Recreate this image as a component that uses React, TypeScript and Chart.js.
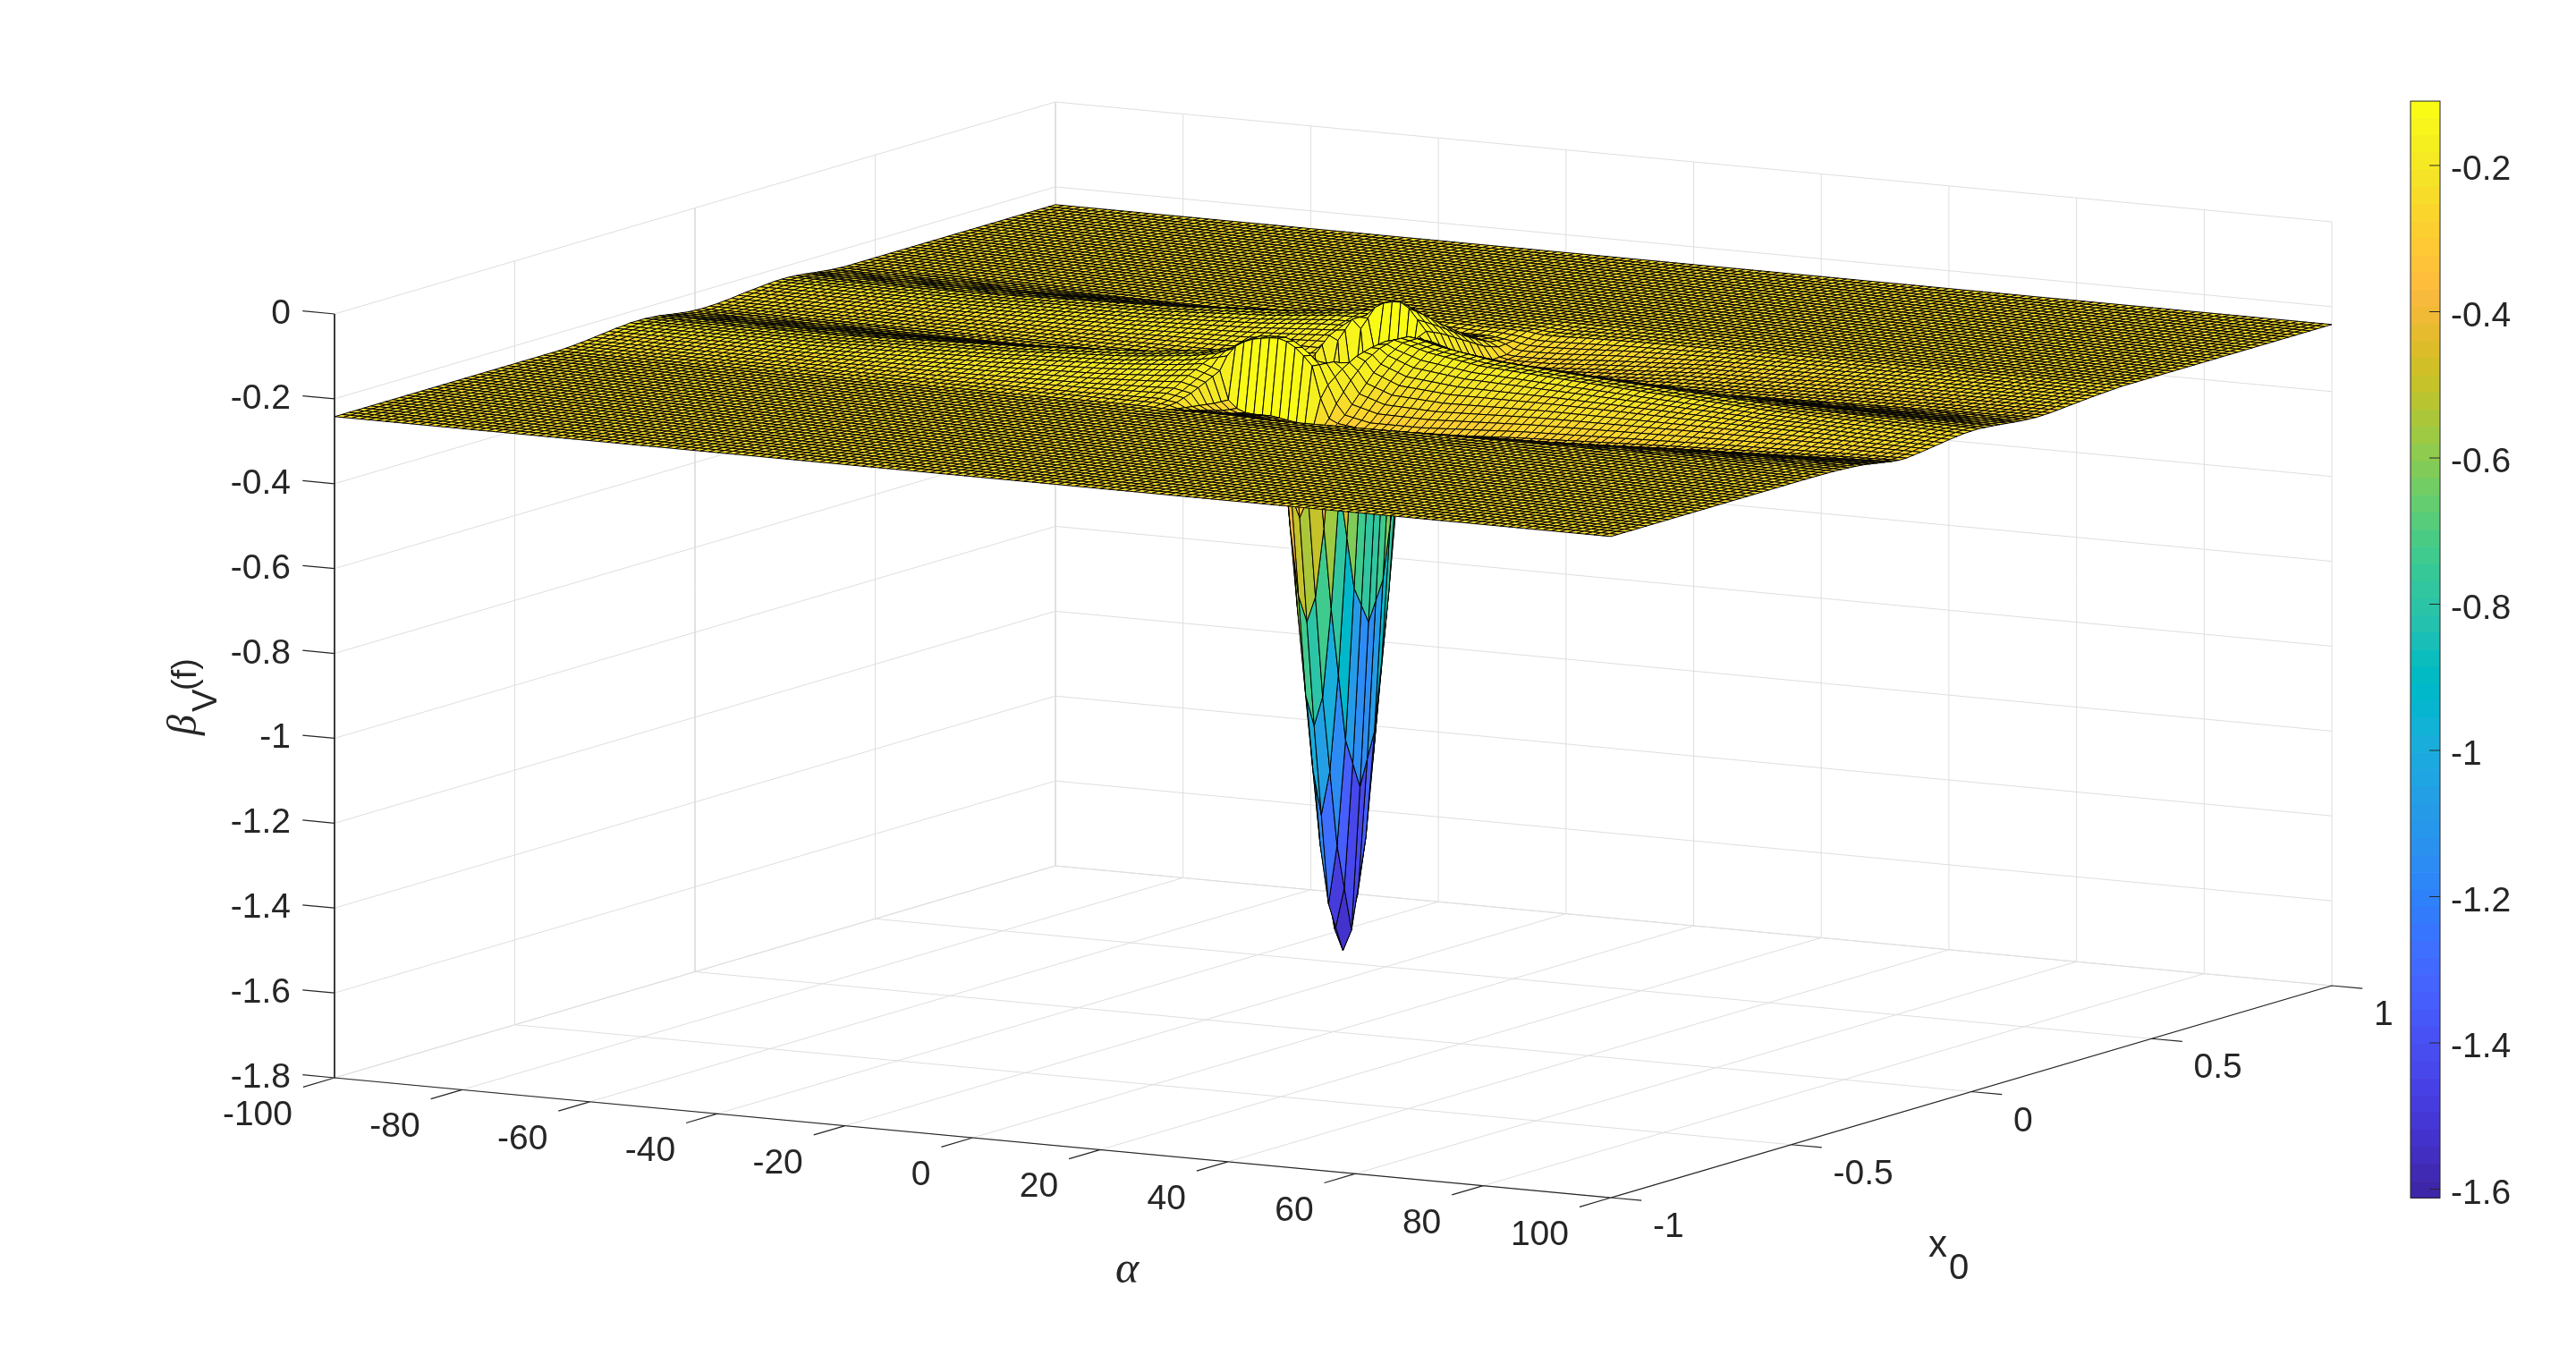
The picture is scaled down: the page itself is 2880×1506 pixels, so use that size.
import React, { useEffect, useRef } from "react";
import { Chart, registerables } from "chart.js";

Chart.register(...registerables);

// ---------- data ----------
const alphaTicks = [-100, -80, -60, -40, -20, 0, 20, 40, 60, 80, 100];
const x0Ticks = [-1, -0.5, 0, 0.5, 1];
const x0TickText = ["-1", "-0.5", "0", "0.5", "1"];
const zTicks = [0, -0.2, -0.4, -0.6, -0.8, -1, -1.2, -1.4, -1.6, -1.8];
const colorbarTicks = [-0.2, -0.4, -0.6, -0.8, -1, -1.2, -1.4, -1.6];
const colorLimits = [-1.612, -0.112];
const flatLevel = -0.242;

// Surface heights at these stations. The picture's mesh
// is denser than the table: mesh points between stations are looked up linearly.
const alphaStations = [-100, -70, -40, -22, -12, -8, -5.3333, -4, -2.6667, -1.3333, 0, 1.3333, 2.6667, 4, 5.3333, 6.6667, 8, 9.3333, 10.6667, 12, 16, 24, 40, 70, 100];
const x0Stations = [-0.38, -0.34, -0.3, -0.26, -0.22, -0.2, -0.18, -0.14, -0.1, -0.06, -0.02, 0.02, 0.06, 0.1, 0.14, 0.18, 0.22, 0.26, 0.3, 0.34, 0.38, 0.42];
const zRows = [
  [-0.242, -0.24, -0.237, -0.233, -0.229, -0.228, -0.226, -0.226, -0.229, -0.235, -0.24, -0.242, -0.241, -0.238, -0.234, -0.231, -0.228, -0.228, -0.231, -0.236, -0.24, -0.242],
  [-0.242, -0.24, -0.236, -0.231, -0.226, -0.224, -0.223, -0.222, -0.226, -0.233, -0.239, -0.242, -0.24, -0.237, -0.232, -0.228, -0.225, -0.224, -0.228, -0.234, -0.239, -0.242],
  [-0.242, -0.2385, -0.2315, -0.223, -0.214, -0.211, -0.208, -0.207, -0.216, -0.233, -0.243, -0.243, -0.239, -0.233, -0.225, -0.218, -0.213, -0.212, -0.22, -0.235, -0.243, -0.242],
  [-0.242, -0.237, -0.227, -0.215, -0.202, -0.198, -0.194, -0.192, -0.205, -0.23, -0.244, -0.244, -0.238, -0.228, -0.217, -0.206, -0.198, -0.197, -0.208, -0.232, -0.244, -0.242],
  [-0.242, -0.235, -0.222, -0.206, -0.19, -0.184, -0.179, -0.177, -0.193, -0.226, -0.245, -0.245, -0.236, -0.224, -0.209, -0.194, -0.184, -0.182, -0.197, -0.228, -0.245, -0.242],
  [-0.242, -0.234, -0.22, -0.2, -0.182, -0.175, -0.168, -0.165, -0.19, -0.226, -0.248, -0.25, -0.24, -0.224, -0.205, -0.192, -0.182, -0.176, -0.19, -0.226, -0.246, -0.242],
  [-0.244, -0.24, -0.228, -0.212, -0.195, -0.165, -0.152, -0.158, -0.19, -0.235, -0.26, -0.26, -0.24, -0.215, -0.19, -0.186, -0.178, -0.175, -0.19, -0.225, -0.246, -0.242],
  [-0.245, -0.25, -0.255, -0.26, -0.262, -0.14, -0.135, -0.15, -0.18, -0.215, -0.24, -0.215, -0.18, -0.165, -0.165, -0.18, -0.185, -0.192, -0.208, -0.232, -0.248, -0.243],
  [-0.245, -0.255, -0.265, -0.275, -0.28, -0.128, -0.125, -0.145, -0.19, -0.36, -0.42, -0.36, -0.19, -0.15, -0.15, -0.165, -0.178, -0.19, -0.21, -0.234, -0.248, -0.243],
  [-0.245, -0.255, -0.268, -0.28, -0.288, -0.12, -0.118, -0.17, -0.48, -0.73, -0.82, -0.73, -0.48, -0.17, -0.13, -0.15, -0.172, -0.195, -0.215, -0.238, -0.25, -0.244],
  [-0.245, -0.255, -0.268, -0.28, -0.29, -0.116, -0.116, -0.38, -0.77, -1.09, -1.21, -1.09, -0.77, -0.38, -0.118, -0.14, -0.172, -0.198, -0.22, -0.242, -0.25, -0.244],
  [-0.245, -0.255, -0.268, -0.28, -0.29, -0.113, -0.115, -0.5, -0.98, -1.34, -1.55, -1.34, -0.98, -0.5, -0.113, -0.137, -0.172, -0.2, -0.224, -0.245, -0.25, -0.244],
  [-0.245, -0.255, -0.268, -0.28, -0.29, -0.112, -0.115, -0.55, -1.05, -1.48, -1.6, -1.48, -1.05, -0.55, -0.112, -0.14, -0.172, -0.2, -0.225, -0.245, -0.25, -0.244],
  [-0.245, -0.256, -0.27, -0.283, -0.293, -0.118, -0.122, -0.5, -0.98, -1.34, -1.55, -1.34, -0.98, -0.5, -0.125, -0.15, -0.178, -0.204, -0.228, -0.248, -0.252, -0.244],
  [-0.245, -0.258, -0.273, -0.287, -0.297, -0.13, -0.135, -0.38, -0.77, -1.09, -1.21, -1.09, -0.77, -0.38, -0.15, -0.17, -0.192, -0.215, -0.235, -0.252, -0.255, -0.245],
  [-0.246, -0.26, -0.276, -0.291, -0.3, -0.148, -0.152, -0.19, -0.48, -0.73, -0.82, -0.73, -0.48, -0.19, -0.175, -0.19, -0.21, -0.23, -0.25, -0.262, -0.258, -0.245],
  [-0.246, -0.262, -0.279, -0.295, -0.304, -0.17, -0.172, -0.175, -0.19, -0.36, -0.42, -0.36, -0.19, -0.18, -0.21, -0.232, -0.252, -0.27, -0.28, -0.278, -0.262, -0.248],
  [-0.247, -0.264, -0.282, -0.298, -0.306, -0.245, -0.218, -0.19, -0.17, -0.16, -0.155, -0.16, -0.17, -0.2, -0.23, -0.255, -0.272, -0.282, -0.285, -0.28, -0.265, -0.25],
  [-0.248, -0.266, -0.285, -0.3, -0.31, -0.29, -0.26, -0.215, -0.18, -0.16, -0.15, -0.152, -0.17, -0.205, -0.24, -0.265, -0.278, -0.286, -0.288, -0.28, -0.265, -0.25],
  [-0.248, -0.267, -0.287, -0.303, -0.313, -0.3, -0.285, -0.245, -0.205, -0.175, -0.155, -0.155, -0.172, -0.208, -0.245, -0.27, -0.282, -0.288, -0.288, -0.28, -0.265, -0.25],
  [-0.248, -0.266, -0.286, -0.304, -0.316, -0.308, -0.298, -0.265, -0.23, -0.198, -0.172, -0.17, -0.19, -0.225, -0.258, -0.28, -0.288, -0.29, -0.288, -0.278, -0.263, -0.248],
  [-0.247, -0.262, -0.282, -0.3, -0.314, -0.308, -0.298, -0.27, -0.24, -0.213, -0.192, -0.19, -0.205, -0.238, -0.268, -0.285, -0.286, -0.285, -0.28, -0.27, -0.257, -0.246],
  [-0.245, -0.255, -0.27, -0.285, -0.298, -0.294, -0.285, -0.262, -0.24, -0.222, -0.208, -0.208, -0.22, -0.245, -0.265, -0.276, -0.276, -0.272, -0.266, -0.258, -0.25, -0.244],
  [-0.243, -0.247, -0.254, -0.264, -0.277, -0.276, -0.272, -0.259, -0.248, -0.24, -0.234, -0.234, -0.24, -0.251, -0.26, -0.265, -0.263, -0.26, -0.255, -0.25, -0.245, -0.242],
  [-0.243, -0.245, -0.248, -0.254, -0.26, -0.262, -0.262, -0.258, -0.253, -0.248, -0.244, -0.243, -0.246, -0.25, -0.254, -0.256, -0.255, -0.252, -0.249, -0.246, -0.244, -0.242],
];

const parula = [
  [0.2422, 0.1504, 0.6603], [0.2504, 0.165, 0.7076], [0.2578, 0.1818, 0.7511], [0.2647, 0.1978, 0.7952],
  [0.2706, 0.2147, 0.8364], [0.2751, 0.2342, 0.871], [0.2783, 0.2559, 0.8991], [0.2803, 0.2782, 0.9221],
  [0.2813, 0.3006, 0.9414], [0.281, 0.3228, 0.9579], [0.2795, 0.3447, 0.9717], [0.276, 0.3667, 0.9829],
  [0.2699, 0.3892, 0.9906], [0.2602, 0.4123, 0.9952], [0.244, 0.4358, 0.9988], [0.2206, 0.4603, 0.9973],
  [0.1963, 0.4847, 0.9892], [0.1834, 0.5074, 0.9798], [0.1786, 0.5289, 0.9682], [0.1764, 0.5499, 0.952],
  [0.1687, 0.5703, 0.9359], [0.154, 0.5902, 0.9218], [0.146, 0.6091, 0.9079], [0.138, 0.6276, 0.8973],
  [0.1248, 0.6459, 0.8883], [0.1113, 0.6635, 0.8763], [0.0952, 0.6798, 0.8598], [0.0689, 0.6948, 0.8394],
  [0.0297, 0.7082, 0.8163], [0.0036, 0.7203, 0.7917], [0.0067, 0.7312, 0.766], [0.0433, 0.7411, 0.7394],
  [0.0964, 0.75, 0.712], [0.1408, 0.7584, 0.6842], [0.1717, 0.767, 0.6554], [0.1938, 0.7758, 0.6251],
  [0.2161, 0.7843, 0.5923], [0.247, 0.7918, 0.5567], [0.2906, 0.7973, 0.5188], [0.3406, 0.8008, 0.4789],
  [0.3909, 0.8029, 0.4354], [0.4456, 0.8024, 0.3909], [0.5044, 0.7993, 0.348], [0.5616, 0.7942, 0.3045],
  [0.6174, 0.7876, 0.2612], [0.672, 0.7793, 0.2227], [0.7242, 0.7698, 0.191], [0.7738, 0.7598, 0.1646],
  [0.8203, 0.7498, 0.1535], [0.8634, 0.7406, 0.1596], [0.9035, 0.733, 0.1774], [0.9393, 0.7288, 0.21],
  [0.9728, 0.7298, 0.2394], [0.9956, 0.7434, 0.2371], [0.997, 0.7659, 0.2199], [0.9952, 0.7893, 0.2028],
  [0.9892, 0.8136, 0.1885], [0.9786, 0.8386, 0.1766], [0.9676, 0.8639, 0.1643], [0.961, 0.889, 0.1537],
  [0.9597, 0.9135, 0.1423], [0.9628, 0.9373, 0.1265], [0.9691, 0.9606, 0.1064], [0.9769, 0.9839, 0.0805],
].map((c) => `rgb(${Math.round(c[0] * 255)},${Math.round(c[1] * 255)},${Math.round(c[2] * 255)})`);

// ---------- mesh and projection ----------
const alphaLineCount = 151;
const x0LineCount = 101;
const WIDTH = 2880;
const HEIGHT = 1506;
const TEXT = "rgb(38,38,38)";
const GRID = "rgb(222,222,222)";
const SANS = "'Liberation Sans'";
const SERIF = "'Liberation Serif'";

function project(alpha: number, x0: number, z: number) {
  const a = (alpha + 100) / 200;
  const b = (x0 + 1) / 2;
  const c = (z + 1.8) / 1.8;
  return { x: 374 + 1427 * a + 806 * b, y: 1205 + 134 * a - 237 * b - 854 * c };
}

function bracket(list: number[], v: number) {
  let i = 0;
  while (i < list.length - 2 && v > list[i + 1] + 1e-6) i++;
  return i;
}

function lookup(alpha: number, x0: number) {
  const xs = [-0.46, ...x0Stations, 0.5];
  if (x0 <= xs[0] || x0 >= xs[xs.length - 1]) return flatLevel;
  const ia = bracket(alphaStations, alpha);
  const ta = (alpha - alphaStations[ia]) / (alphaStations[ia + 1] - alphaStations[ia]);
  const ix = bracket(xs, x0);
  const tx = (x0 - xs[ix]) / (xs[ix + 1] - xs[ix]);
  const cell = (r: number, c: number) =>
    c === 0 || c === xs.length - 1 ? flatLevel : zRows[r][c - 1];
  const lo = cell(ia, ix) * (1 - tx) + cell(ia, ix + 1) * tx;
  const hi = cell(ia + 1, ix) * (1 - tx) + cell(ia + 1, ix + 1) * tx;
  return lo * (1 - ta) + hi * ta;
}

const alphaLines = Array.from({ length: alphaLineCount }, (_, i) => -100 + (200 * i) / (alphaLineCount - 1));
const x0Lines = Array.from({ length: x0LineCount }, (_, j) => -1 + (2 * j) / (x0LineCount - 1));
const meshZ = alphaLines.map((a) => x0Lines.map((x) => lookup(a, x)));

function colorFor(z: number) {
  const [lo, hi] = colorLimits;
  const idx = Math.floor(((z - lo) / (hi - lo)) * 64);
  return parula[Math.max(0, Math.min(63, idx))];
}

function polylines(lines: { x: number; y: number }[][]) {
  const out: { x: number; y: number }[] = [];
  lines.forEach((l) => {
    out.push(...l);
    out.push({ x: NaN, y: NaN });
  });
  return out;
}

const gridData = polylines([
  ...alphaTicks.map((a) => [project(a, -1, -1.8), project(a, 1, -1.8), project(a, 1, 0)]),
  ...x0Ticks.map((x) => [project(-100, x, 0), project(-100, x, -1.8), project(100, x, -1.8)]),
  ...zTicks.map((z) => [project(-100, -1, z), project(-100, 1, z), project(100, 1, z)]),
]);

const zAxisData = polylines([[project(-100, -1, 0), project(-100, -1, -1.8)]]);

const ruleData = polylines([
  [project(-100, -1, -1.8), project(100, -1, -1.8), project(100, 1, -1.8)],
  ...zTicks.map((z) => [project(-100, -1, z), project(-105, -1, z)]),
  ...alphaTicks.map((a) => [project(a, -1, -1.8), project(a, -1.087, -1.8)]),
  ...x0Ticks.map((x) => [project(100, x, -1.8), project(104.8, x, -1.8)]),
]);

const surfaceData: { x: number; y: number }[] = [];
alphaLines.forEach((a, i) => x0Lines.forEach((x, j) => surfaceData.push(project(a, x, meshZ[i][j]))));

const quads: { i: number; j: number; depth: number }[] = [];
for (let i = 0; i < alphaLineCount - 1; i++) {
  for (let j = 0; j < x0LineCount - 1; j++) {
    const a = (alphaLines[i] + alphaLines[i + 1] + 200) / 400;
    const b = (x0Lines[j] + x0Lines[j + 1] + 2) / 4;
    const z = (meshZ[i][j] + meshZ[i + 1][j] + meshZ[i][j + 1] + meshZ[i + 1][j + 1]) / 4;
    quads.push({ i, j, depth: 795 * a - 1406 * b + 80 * z });
  }
}
quads.sort((p, q) => p.depth - q.depth);

const surfacePlugin = {
  id: "surface",
  afterDatasetsDraw(chart: any) {
    const pts = chart.getDatasetMeta(3).data;
    const ctx = chart.ctx;
    ctx.save();
    ctx.lineWidth = 1;
    ctx.strokeStyle = "#000";
    ctx.lineJoin = "miter";
    for (const q of quads) {
      const k = q.i * x0LineCount + q.j;
      const p0 = pts[k];
      const p1 = pts[k + x0LineCount];
      const p2 = pts[k + x0LineCount + 1];
      const p3 = pts[k + 1];
      ctx.beginPath();
      ctx.moveTo(p0.x, p0.y);
      ctx.lineTo(p1.x, p1.y);
      ctx.lineTo(p2.x, p2.y);
      ctx.lineTo(p3.x, p3.y);
      ctx.closePath();
      ctx.fillStyle = colorFor(Math.max(meshZ[q.i][q.j], meshZ[q.i][q.j + 1]));
      ctx.fill();
      ctx.stroke();
    }
    ctx.restore();
  },
};

const textPlugin = {
  id: "labelsAndBar",
  afterDraw(chart: any) {
    const ctx = chart.ctx;
    const sx = chart.scales.x;
    const sy = chart.scales.y;
    const px = (p: { x: number; y: number }) => ({ x: sx.getPixelForValue(p.x), y: sy.getPixelForValue(p.y) });
    ctx.save();
    ctx.fillStyle = TEXT;
    ctx.font = `39px ${SANS}`;
    ctx.textBaseline = "alphabetic";

    ctx.textAlign = "right";
    zTicks.forEach((z) => {
      const p = px(project(-100, -1, z));
      ctx.fillText(String(z), p.x - 49, p.y + 11);
    });
    alphaTicks.forEach((a) => {
      const p = px(project(a, -1, -1.8));
      ctx.fillText(String(a), p.x - 47, p.y + 53);
    });
    ctx.textAlign = "left";
    x0Ticks.forEach((x, i) => {
      const p = px(project(100, x, -1.8));
      ctx.fillText(x0TickText[i], p.x + 47, p.y + 44);
    });

    // colour bar
    const barY = (v: number) => sy.getPixelForValue(185 + (-0.2 - v) * 817.5);
    const top = barY(colorLimits[1]);
    const bottom = barY(colorLimits[0]);
    const left = sx.getPixelForValue(2695);
    const right = sx.getPixelForValue(2728);
    const step = (bottom - top) / 64;
    for (let i = 0; i < 64; i++) {
      ctx.fillStyle = parula[63 - i];
      ctx.fillRect(left, top + i * step, right - left, step + 0.6);
    }
    ctx.strokeStyle = TEXT;
    ctx.lineWidth = 1;
    ctx.strokeRect(left, top, right - left, bottom - top);
    ctx.fillStyle = TEXT;
    colorbarTicks.forEach((v) => {
      const y = barY(v);
      ctx.beginPath();
      ctx.moveTo(right - 12, y);
      ctx.lineTo(right, y);
      ctx.stroke();
      ctx.fillText(String(v), right + 12, y + 16);
    });

    // axis titles
    ctx.textAlign = "center";
    ctx.font = `italic 50px ${SERIF}`;
    ctx.fillText("\u03b1", 1260, 1434);

    ctx.textAlign = "left";
    ctx.font = `42px ${SANS}`;
    ctx.fillText("x", 2156, 1405);
    ctx.font = `40px ${SANS}`;
    ctx.fillText("0", 2179, 1430);

    ctx.save();
    ctx.translate(219, 822);
    ctx.rotate(-Math.PI / 2);
    ctx.font = `italic 46px ${SERIF}`;
    ctx.fillText("\u03b2", 0, 0);
    ctx.font = `38px ${SANS}`;
    ctx.fillText("V", 26, 23);
    ctx.fillText("(f)", 50, 0);
    ctx.restore();
    ctx.restore();
  },
};

export default function App() {
  const ref = useRef<HTMLCanvasElement>(null);
  useEffect(() => {
    const chart = new Chart(ref.current as HTMLCanvasElement, {
      type: "scatter",
      data: {
        datasets: [
          { label: "rules", data: ruleData, showLine: true, spanGaps: false, borderColor: TEXT, borderWidth: 1.25, pointRadius: 0, order: 1 },
          { label: "z axis", data: zAxisData, showLine: true, spanGaps: false, borderColor: TEXT, borderWidth: 1, pointRadius: 0, order: 2 },
          { label: "grid", data: gridData, showLine: true, spanGaps: false, borderColor: GRID, borderWidth: 1, pointRadius: 0, order: 3 },
          { label: "surface", data: surfaceData, showLine: false, pointRadius: 0, order: 4 },
        ],
      },
      options: {
        responsive: false,
        animation: false,
        devicePixelRatio: 1,
        events: [],
        layout: { padding: 0 },
        plugins: { legend: { display: false }, tooltip: { enabled: false }, title: { display: false } },
        scales: {
          x: { type: "linear", display: false, min: 0, max: WIDTH },
          y: { type: "linear", display: false, min: 0, max: HEIGHT, reverse: true },
        },
      },
      plugins: [surfacePlugin, textPlugin],
    } as any);
    return () => chart.destroy();
  }, []);
  return (
    <div style={{ position: "fixed", left: 0, top: 0, width: WIDTH, height: HEIGHT, background: "#fff" }}>
      <canvas ref={ref} width={WIDTH} height={HEIGHT} style={{ display: "block" }} />
    </div>
  );
}
